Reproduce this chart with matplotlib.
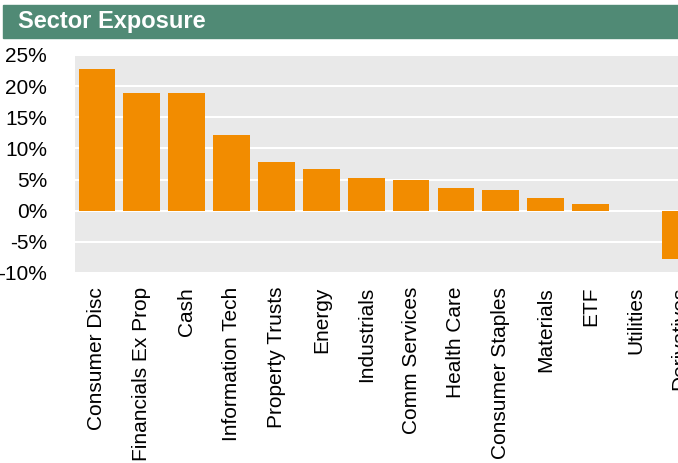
import matplotlib
matplotlib.use("Agg")
import matplotlib.pyplot as plt
import matplotlib.transforms as mtransforms
from matplotlib.patches import Rectangle

plt.rc("font", family=["Liberation Sans", "DejaVu Sans"])

sectors = [
    "Consumer Disc", "Financials Ex Prop", "Cash", "Information Tech",
    "Property Trusts", "Energy", "Industrials", "Comm Services",
    "Health Care", "Consumer Staples", "Materials", "ETF", "Utilities",
    "Derivatives",
]
exposure = [22.7, 18.95, 18.9, 12.1, 7.8, 6.7, 5.2, 4.9, 3.6, 3.4, 2.1, 1.1, 0.0, -7.75]
yticks = [-10, -5, 0, 5, 10, 15, 20, 25]

ORANGE = "#F28C00"
GREEN = "#508A75"
GREY = "#E9E9E9"

fig = plt.figure(figsize=(6.78, 4.63), dpi=100)

# green header strip
fig.patches.append(Rectangle((3 / 678, 1 - 38 / 463), 1, 33 / 463,
                             transform=fig.transFigure, color=GREEN, zorder=0))
fig.text(18 / 678, 1 - 21.5 / 463, "Sector Exposure", color="white",
         fontsize=17, fontweight="bold", va="center", ha="left")

ax = fig.add_axes([75 / 678, 1 - 273 / 463, 1 - 75 / 678, 218 / 463])
ax.set_facecolor(GREY)
x = list(range(len(sectors)))
ax.bar(x, exposure, width=0.82, color=ORANGE, linewidth=0, zorder=3)

ax.set_ylim(-10, 25)
ax.set_yticks(yticks)
ax.set_yticklabels([f"{v}%" for v in yticks])
ax.grid(axis="y", color="white", linewidth=1.5, zorder=1)
ax.set_axisbelow(True)
ax.set_xlim(-0.49, 12.95)

# last category sits past the right edge, label it by hand
pad = 10
shown = len(sectors) - 1
ax.set_xticks(x[:shown])
ax.set_xticklabels(sectors[:shown], rotation=90, va="top", ha="center")
ax.tick_params(axis="x", length=0, pad=pad, labelsize=15)
ax.tick_params(axis="y", length=0, pad=20, labelsize=15)
trans = mtransforms.offset_copy(ax.get_xaxis_transform(), fig=fig, x=0, y=-pad, units="points")
ax.text(x[-1], 0, sectors[-1], rotation=90, va="top", ha="center",
        fontsize=15, transform=trans, clip_on=False)

for s in ax.spines.values():
    s.set_visible(False)

fig.savefig("out.png", dpi=100)
